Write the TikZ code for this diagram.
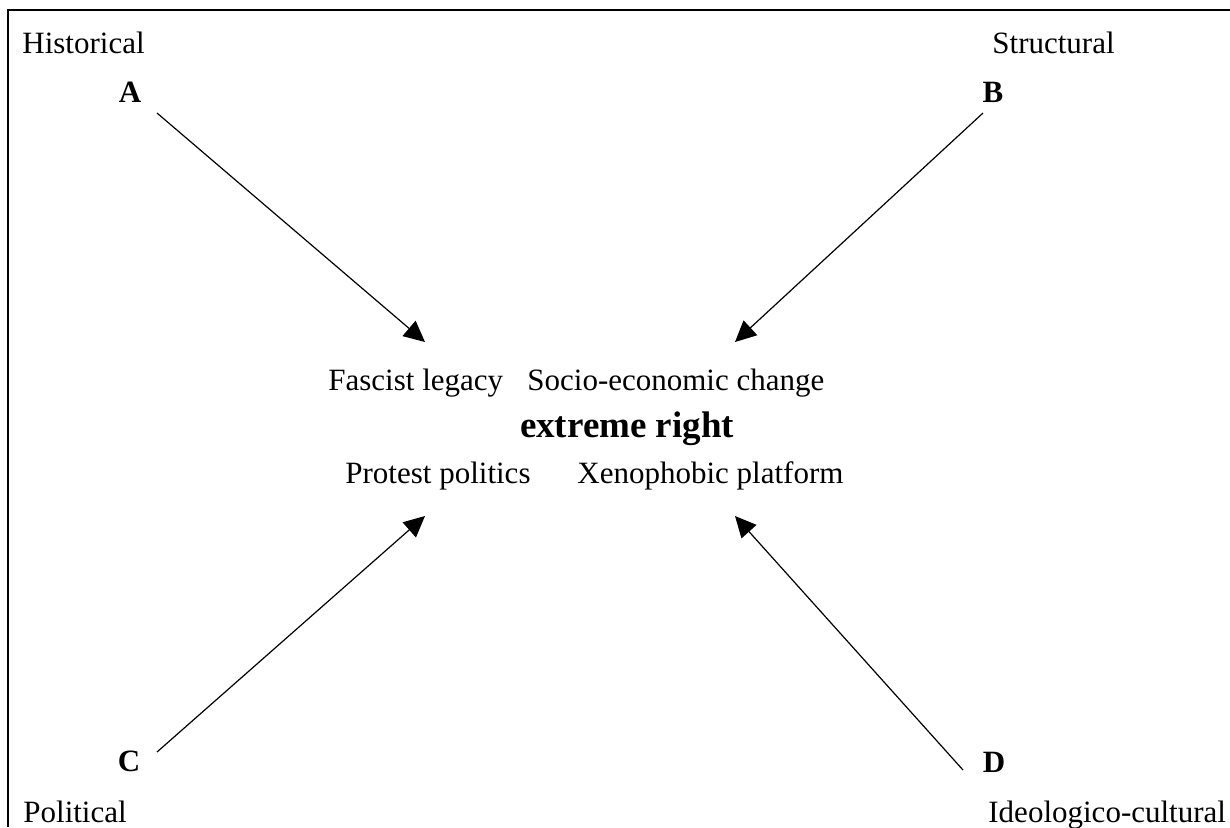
\documentclass[tikz,border=0pt]{standalone}
\usepackage{fontspec}
\setmainfont{Liberation Serif}
\usetikzlibrary{positioning, arrows.meta}

\begin{document}
\begin{tikzpicture}
    [
        x=0.5pt, y=-0.5pt,
        side_text/.style={inner sep=0pt, anchor=base west, font=\fontsize{15.5}{18}\selectfont},
        letter_text/.style={inner sep=0pt, anchor=base, font=\fontsize{15.5}{18}\selectfont\bfseries},
        mid_text/.style={inner sep=0pt, anchor=base west, font=\fontsize{15.5}{18}\selectfont},
        big_text/.style={inner sep=0pt, anchor=base, font=\fontsize{18.5}{22}\selectfont\bfseries},
        factor_arrow/.style={-{Triangle[length=10.5pt, width=10pt]}, line width=0.6pt},
    ]
        \useasboundingbox (0,0) rectangle (1230,827) ;
        \draw[line width=0.75pt] (8,827) -- (8,10) -- (1230,10) ;
        \node[side_text] (hist) at (22,53) {Historical} ;
        \node[letter_text] (A) at (130,102) {A} ;
        \node[side_text] (struct) at (992,53) {Structural} ;
        \node[letter_text] (B) at (993,102) {B} ;
        \node[letter_text] (C) at (129,771) {C} ;
        \node[side_text] (pol) at (23,822) {Political} ;
        \node[letter_text] (D) at (994,772) {D} ;
        \node[side_text] (ideo) at (988,822) {Ideologico-cultural} ;
        \node[mid_text] (fascist) at (328,390) {Fascist legacy} ;
        \node[mid_text] (socio) at (527,390) {Socio-economic change} ;
        \node[big_text] (xright) at (627,437) {extreme right} ;
        \node[mid_text] (protest) at (345,483) {Protest politics} ;
        \node[mid_text] (xeno) at (577,483) {Xenophobic platform} ;
        \coordinate (a_from) at (157,113) ;
        \coordinate (a_to) at (425,342) ;
        \coordinate (b_from) at (983,113) ;
        \coordinate (b_to) at (735,342) ;
        \coordinate (c_from) at (157,752) ;
        \coordinate (c_to) at (425,516) ;
        \coordinate (d_from) at (963,770) ;
        \coordinate (d_to) at (735,516) ;
        \draw[factor_arrow] (a_from) -- (a_to) ;
        \draw[factor_arrow] (b_from) -- (b_to) ;
        \draw[factor_arrow] (c_from) -- (c_to) ;
        \draw[factor_arrow] (d_from) -- (d_to) ;
    \end{tikzpicture}
\end{document}
